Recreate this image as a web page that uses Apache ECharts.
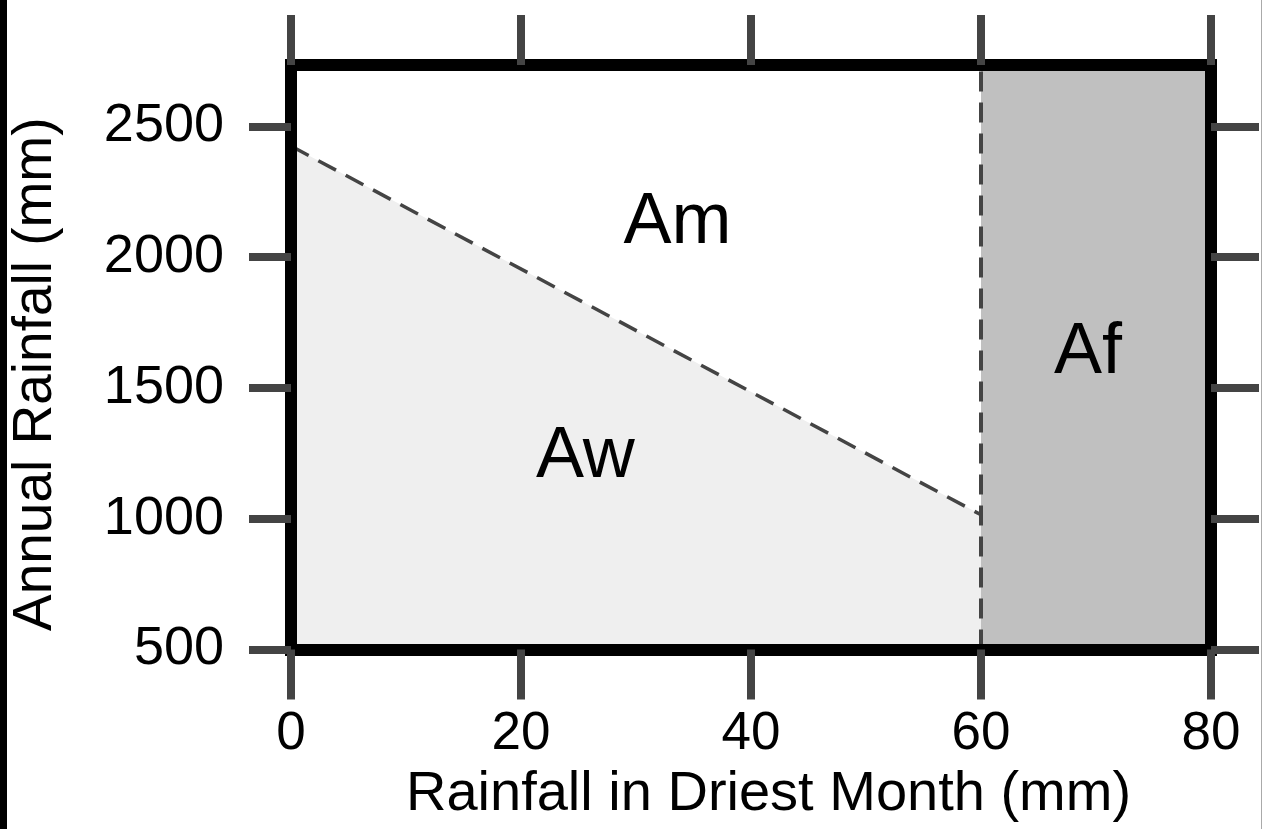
<!DOCTYPE html>
<html>
<head>
<meta charset="utf-8">
<script src="https://cdn.jsdelivr.net/npm/echarts@6/dist/echarts.min.js"></script>
<style>
  html, body { margin: 0; padding: 0; background: #fff; }
  #chart { position: absolute; left: 0; top: 0; width: 1262px; height: 829px; }
  #lbar { position: absolute; left: 0; top: 0; width: 7px; height: 829px; background: #000; z-index: 5; }
  #rbar { position: absolute; left: 1261px; top: 0; width: 1px; height: 829px; background: #aaa; z-index: 5; }
</style>
</head>
<body>
<div id="chart"></div>
<div id="lbar"></div>
<div id="rbar"></div>
<script>
// ---- data ----
const xTicks = [0, 20, 40, 60, 80];
const yTicks = [500, 1000, 1500, 2000, 2500];
const xRange = [0, 80];
const yRange = [500, 2735];
// Am / Aw boundary (dashed diagonal)
const boundaryX = [0, 60];
const boundaryY = [2425, 1015];
// Af region (driest month >= 60 mm)
const afRange = [60, 80];
// region labels
const regionNames = ['Am', 'Aw', 'Af'];
const regionX = [33.6, 25.6, 69.3];
const regionY = [2131, 1235, 1634];

const FONT = "'Liberation Sans', Arial, Helvetica, sans-serif";
const chart = echarts.init(document.getElementById('chart'), null, { renderer: 'canvas' });

const frameLine = { show: true, onZero: false, lineStyle: { color: '#000', width: 12, cap: 'square' } };
function tick(len, vals) {
  return { show: true, inside: false, length: len, customValues: vals, lineStyle: { color: '#444', width: 8 } };
}

const option = {
  animation: false,
  backgroundColor: '#fff',
  grid: { left: 288, top: 65, right: 51, bottom: 179.5, containLabel: false, show: false },
  xAxis: [
    {
      type: 'value', position: 'bottom', min: xRange[0], max: xRange[1], interval: 20, z: 10,
      axisLine: frameLine, axisTick: tick(50, xTicks), splitLine: { show: false },
      axisLabel: { customValues: xTicks, fontSize: 53, fontFamily: FONT, color: '#000', margin: 58,
                   formatter: v => String(v) },
      name: 'Rainfall in Driest Month (mm)', nameLocation: 'middle', nameGap: 117,
      nameTextStyle: { fontSize: 56, fontFamily: FONT, color: '#000', padding: [0, 0, 0, 35] }
    },
    {
      type: 'value', position: 'top', min: xRange[0], max: xRange[1], interval: 20, z: 10,
      axisLine: frameLine, axisTick: tick(50, xTicks), axisLabel: { show: false }, splitLine: { show: false }
    }
  ],
  yAxis: [
    {
      type: 'value', position: 'left', min: yRange[0], max: yRange[1], interval: 500, z: 10,
      axisLine: frameLine, axisTick: tick(42, yTicks), splitLine: { show: false },
      axisLabel: { customValues: yTicks, fontSize: 54, fontFamily: FONT, color: '#000', margin: 67,
                   formatter: v => String(v) },
      name: 'Annual Rainfall (mm)', nameLocation: 'middle', nameGap: 228, nameRotate: 90,
      nameTextStyle: { fontSize: 55, fontFamily: FONT, color: '#000', padding: [0, 34, 0, 0] }
    },
    {
      type: 'value', position: 'right', min: yRange[0], max: yRange[1], interval: 500, z: 10,
      axisLine: frameLine, axisTick: tick(48, yTicks), axisLabel: { show: false }, splitLine: { show: false }
    }
  ],
  series: [
    {
      type: 'line', xAxisIndex: 0, yAxisIndex: 0, z: 2,
      data: boundaryX.map((x, i) => [x, boundaryY[i]]),
      symbol: 'none',
      lineStyle: { color: '#444', width: 3.5, type: [20, 11] },
      areaStyle: { color: '#efefef', origin: 'start', opacity: 1 },
      markArea: {
        silent: true,
        itemStyle: { color: '#c0c0c0', opacity: 1 },
        data: [[{ xAxis: afRange[0] }, { xAxis: afRange[1] }]]
      },
      markLine: {
        silent: true, symbol: 'none', label: { show: false },
        lineStyle: { color: '#444', width: 4, type: [20, 11] },
        data: [{ xAxis: afRange[0] }]
      }
    },
    {
      type: 'scatter', xAxisIndex: 0, yAxisIndex: 0, z: 5, symbolSize: 0,
      itemStyle: { opacity: 1 },
      data: regionNames.map((n, i) => [regionX[i], regionY[i], n]),
      label: {
        show: true, position: 'inside', formatter: p => p.value[2], opacity: 1,
        fontSize: 72, fontFamily: FONT, color: '#000', textBorderWidth: 0
      }
    }
  ]
};
chart.setOption(option);
</script>
</body>
</html>
